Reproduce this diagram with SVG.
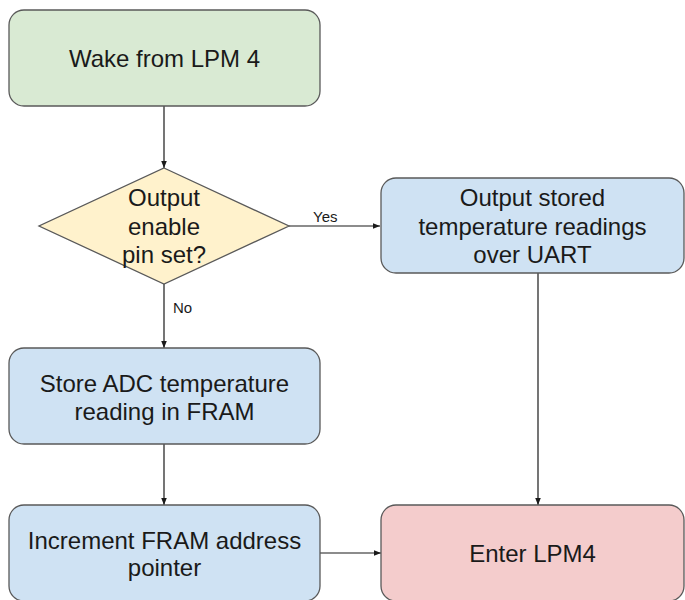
<svg xmlns="http://www.w3.org/2000/svg" width="685" height="600" viewBox="0 0 685 600">
<style>
.n{stroke:#595959;stroke-width:1.3}
.t{font-family:"Liberation Sans",Arial,sans-serif;font-size:24px;fill:#1a1a1a;text-anchor:middle}
.l{font-family:"Liberation Sans",Arial,sans-serif;font-size:15px;fill:#1a1a1a}
.c{stroke:#1a1a1a;stroke-width:1.2;fill:none}
</style>
<defs>
<marker id="a" viewBox="0 0 10 10" refX="10" refY="5" markerWidth="7" markerHeight="7" markerUnits="userSpaceOnUse" orient="auto">
<path d="M0,1 L10,5 L0,9 z" fill="#1a1a1a"/>
</marker>
</defs>
<rect width="685" height="600" fill="#fff"/>
<g id="connectors">
<line class="c" x1="164" y1="106" x2="164" y2="168" marker-end="url(#a)"/>
<line class="c" x1="289" y1="226" x2="380" y2="226" marker-end="url(#a)"/>
<line class="c" x1="164" y1="284" x2="164" y2="348" marker-end="url(#a)"/>
<line class="c" x1="538" y1="273" x2="538" y2="505" marker-end="url(#a)"/>
<line class="c" x1="164" y1="444" x2="164" y2="505" marker-end="url(#a)"/>
<line class="c" x1="320" y1="553" x2="381" y2="553" marker-end="url(#a)"/>
<text class="l" x="313" y="222">Yes</text>
<text class="l" x="173" y="313">No</text>
</g>
<g id="wake">
<rect class="n" x="9" y="10" width="311" height="96" rx="15" fill="#d9ead3"/>
<text class="t" x="164.5" y="67">Wake from LPM 4</text>
</g>
<g id="decision">
<polygon class="n" points="164,168 289,226 164,284 39,226" fill="#fff2cc"/>
<text class="t" x="164" y="206">Output</text>
<text class="t" x="164" y="235">enable</text>
<text class="t" x="164" y="263">pin set?</text>
</g>
<g id="output">
<rect class="n" x="381" y="178" width="303" height="95" rx="15" fill="#cfe2f3"/>
<text class="t" x="532.5" y="206">Output stored</text>
<text class="t" x="532.5" y="235">temperature readings</text>
<text class="t" x="532.5" y="263">over UART</text>
</g>
<g id="store">
<rect class="n" x="9" y="348" width="311" height="96" rx="15" fill="#cfe2f3"/>
<text class="t" x="164.5" y="392">Store ADC temperature</text>
<text class="t" x="164.5" y="420">reading in FRAM</text>
</g>
<g id="increment">
<rect class="n" x="9" y="505" width="311" height="96" rx="15" fill="#cfe2f3"/>
<text class="t" x="164.5" y="549">Increment FRAM address</text>
<text class="t" x="164.5" y="576">pointer</text>
</g>
<g id="enter">
<rect class="n" x="381" y="505" width="303" height="96" rx="15" fill="#f4cccc"/>
<text class="t" x="532.5" y="562">Enter LPM4</text>
</g>
</svg>
